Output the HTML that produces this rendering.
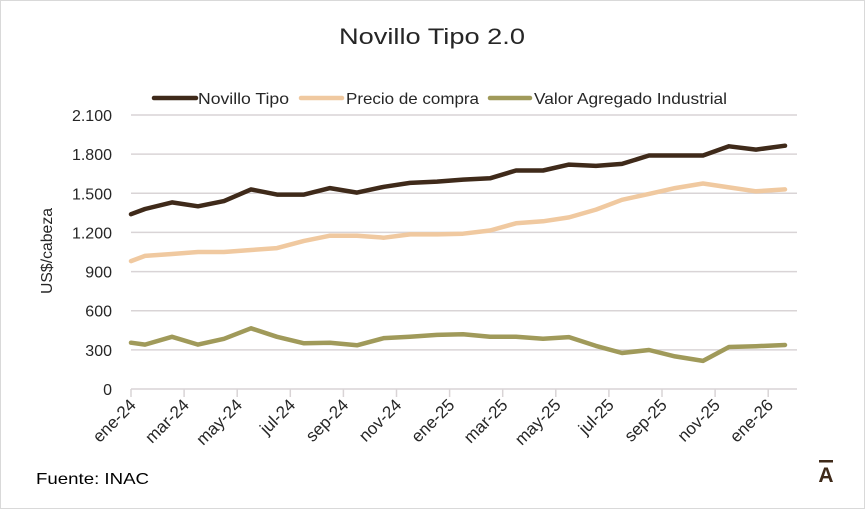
<!DOCTYPE html><html><head><meta charset="utf-8"><style>body{margin:0;background:#fff}svg{display:block;font-family:"Liberation Sans",sans-serif}</style></head><body>
<svg id="s" width="865" height="509" viewBox="0 0 865 509"></svg>
<script>
const s=document.getElementById('s');let h='';
h+='<rect x="0.5" y="0.5" width="864" height="508" fill="#fff" stroke="#d9d9d9"/>';
h+='<text x="432" y="44" text-anchor="middle" font-size="22" fill="#262626" textLength="186" lengthAdjust="spacingAndGlyphs">Novillo Tipo 2.0</text>';
const Y=v=>389-v*0.13047;
for(let v=0;v<=2100;v+=300){h+=`<line x1="131" x2="797" y1="${Y(v)}" y2="${Y(v)}" stroke="#d9d4d6" stroke-width="1.5"/>`;
h+=`<text x="112" y="${Y(v)+6}" text-anchor="end" font-size="16" fill="#262626">${v?v.toLocaleString('de-DE'):0}</text>`;}
const labs=['ene-24','mar-24','may-24','jul-24','sep-24','nov-24','ene-25','mar-25','may-25','jul-25','sep-25','nov-25','ene-26'];
for(let i=0;i<13;i++){const x=131+i*53.1;h+=`<line x1="${x}" x2="${x}" y1="389" y2="397" stroke="#d9d4d6" stroke-width="1.5"/>`;
h+=`<text transform="translate(${x+6},406) rotate(-45)" text-anchor="end" font-size="17" fill="#262626">${labs[i]}</text>`;}
const xs=[131,145,172,198,224,251,277,304,330,357,384,410,437,463,490,516,543,569,596,622,649,675,703,729,756,785];
const A=[1340,1380,1430,1400,1440,1530,1490,1490,1540,1505,1550,1580,1590,1605,1615,1675,1675,1720,1710,1725,1790,1790,1790,1860,1835,1865];
const B=[980,1020,1035,1050,1050,1065,1080,1135,1175,1175,1160,1185,1185,1190,1215,1270,1285,1315,1375,1450,1495,1540,1575,1545,1515,1530];
const C=[355,340,400,340,385,465,400,350,355,335,390,400,415,420,400,400,385,398,330,276,299,250,215,322,328,337];
[[B,'#f0c9a0'],[C,'#a09a5a'],[A,'#3f2a1a']].forEach(([d,c])=>{h+=`<polyline fill="none" stroke="${c}" stroke-width="4.5" stroke-linejoin="round" stroke-linecap="round" points="${d.map((v,i)=>xs[i]+','+Y(v).toFixed(1)).join(' ')}"/>`;});
[[154,196,'#3f2a1a',198,91,'Novillo Tipo'],[301,342,'#f0c9a0',346,133,'Precio de compra'],[490,530,'#a09a5a',534,193,'Valor Agregado Industrial']].forEach(([a,b,c,t,w,l])=>{
h+=`<line x1="${a}" x2="${b}" y1="98" y2="98" stroke="${c}" stroke-width="4.5" stroke-linecap="round"/><text x="${t}" y="104" font-size="16" fill="#262626" textLength="${w}" lengthAdjust="spacingAndGlyphs">${l}</text>`;});
h+='<text transform="translate(52,251) rotate(-90)" text-anchor="middle" font-size="16" fill="#262626" textLength="86" lengthAdjust="spacingAndGlyphs">US$/cabeza</text>';
h+='<text x="36" y="484" font-size="16" fill="#000" textLength="113" lengthAdjust="spacingAndGlyphs">Fuente: INAC</text>';
h+='<text x="826" y="482" text-anchor="middle" font-size="21" font-weight="bold" fill="#3f2a1a">A</text><rect x="819" y="460" width="14" height="2.5" fill="#3f2a1a"/>';
s.innerHTML=h;
</script></body></html>
